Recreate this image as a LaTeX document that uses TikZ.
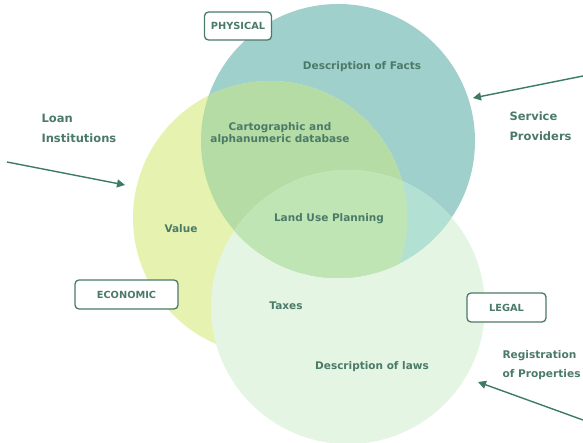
\documentclass[tikz,border=0pt]{standalone}
\usepackage{fontspec}
\setmainfont{DejaVu Sans}
\usetikzlibrary{arrows.meta}

\definecolor{physblue}{HTML}{9FD0CC}
\definecolor{econyellow}{HTML}{E6F3B0}
\definecolor{legalgreen}{HTML}{E4F5E4}
\definecolor{blueyellow}{HTML}{B5DCA5}
\definecolor{bluegreen}{HTML}{B2E0D2}
\definecolor{yellowgreen}{HTML}{D6EEB8}
\definecolor{allthree}{HTML}{BFE5B5}
\definecolor{txtgreen}{HTML}{4B7A68}
\definecolor{arrgreen}{HTML}{3D7B66}

\begin{document}
\begin{tikzpicture}[x=1pt,y=-1pt,
    lbl/.style={text=txtgreen,font=\bfseries\fontsize{10.5}{12}\selectfont,align=center},
    actor/.style={text=txtgreen,font=\bfseries\fontsize{11.5}{20}\selectfont,align=left,anchor=west},
    tag/.style={draw=txtgreen,line width=1.3pt,rounded corners=4pt,fill=white,text=txtgreen,
        font=\bfseries\fontsize{9.8}{11}\selectfont,inner sep=0pt},
    pointer/.style={draw=arrgreen,line width=1.4pt,-{Triangle[length=8pt,width=8pt]}}]
\useasboundingbox (0,0) rectangle (583,443);

% circles
\coordinate (cphys) at (338,141);
\coordinate (cecon) at (270,218);
\coordinate (clegal) at (348,307);
\def\rad{137}

\fill[physblue] (cphys) circle (\rad);
\fill[econyellow] (cecon) circle (\rad);
\fill[legalgreen] (clegal) circle (\rad);

\begin{scope}
\clip (cphys) circle (\rad);
\fill[blueyellow] (cecon) circle (\rad);
\fill[bluegreen] (clegal) circle (\rad);
\end{scope}
\begin{scope}
\clip (cecon) circle (\rad);
\clip (clegal) circle (\rad);
\fill[yellowgreen] (cphys) circle (\rad);
\end{scope}
\begin{scope}
\clip (cphys) circle (\rad);
\clip (cecon) circle (\rad);
\fill[allthree] (clegal) circle (\rad);
\end{scope}

% texts in the circles
\node[lbl] (facts) at (362,67) {Description of Facts};
\node[lbl] (carto) at (280,134) {Cartographic and\\alphanumeric database};
\node[lbl] (land) at (329,219) {Land Use Planning};
\node[lbl] (value) at (181,229) {Value};
\node[lbl] (taxes) at (286,306) {Taxes};
\node[lbl] (laws) at (372,367) {Description of laws};

% boxes
\node[tag,minimum width=67pt,minimum height=28pt] (physical) at (238,26) {PHYSICAL};
\node[tag,minimum width=103pt,minimum height=29pt] (economic) at (126.5,294.5) {ECONOMIC};
\node[tag,minimum width=79pt,minimum height=29pt] (legal) at (506.5,307.5) {LEGAL};

% actors
\node[actor] (loan) at (38,128) {Loan\\Institutions};
\node[actor] (service) at (506,126) {Service\\Providers};
\node[actor,font=\bfseries\fontsize{10.6}{19}\selectfont] (registry) at (499,365) {Registration\\of Properties};

\coordinate (loanend) at (125,185);
\coordinate (serviceend) at (473,98);
\coordinate (registryend) at (478,382);

\draw[pointer] (7,162) -- (loanend);
\draw[pointer] (583,76) -- (serviceend);
\draw[pointer] (583,420) -- (registryend);
\end{tikzpicture}
\end{document}
